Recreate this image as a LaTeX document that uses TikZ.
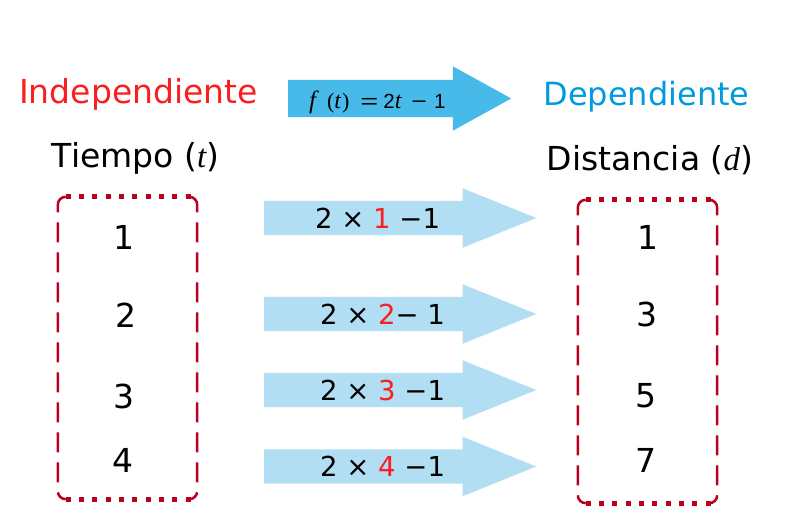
\documentclass[tikz,border=0pt]{standalone}
\usepackage{fontspec}
\setmainfont{DejaVu Sans}
\newfontfamily\timesfont{Liberation Serif}
\newfontfamily\arialfont{Liberation Sans}
\usetikzlibrary{shapes.arrows}
\definecolor{indepred}{RGB}{250, 30, 30}
\definecolor{depblue}{RGB}{0, 155, 222}
\definecolor{arrowblue}{RGB}{72, 186, 233}
\definecolor{lightarrow}{RGB}{178, 222, 243}
\definecolor{boxred}{RGB}{185, 0, 30}
\newcommand{\tvar}[1]{{\timesfont\itshape #1}}
\newcommand{\sanstxt}[1]{{\arialfont\fontsize{20.5}{24}\selectfont #1}}

\begin{document}
\begin{tikzpicture}[
    x=1pt, y=-1pt,
    % Define Styles for Consistency
    titletext/.style={
        inner sep=0pt, anchor=base, font=\fontsize{33}{40}\selectfont
    },
    numtext/.style={
        inner sep=0pt, font=\fontsize{33}{40}\selectfont
    },
    calctext/.style={
        inner sep=0pt, anchor=west, font=\fontsize{27.5}{33}\selectfont
    },
    bigarrow/.style={
        single arrow, fill=arrowblue, draw=none, inner sep=0pt,
        minimum width=0pt, text height=18.5pt, text depth=18.5pt,
        minimum height=223pt, single arrow head extend=13.5pt,
        single arrow tip angle=57.8, anchor=tail
    },
    smallarrow/.style={
        single arrow, fill=lightarrow, draw=none, inner sep=0pt,
        minimum width=0pt, text height=17pt, text depth=17pt,
        minimum height=272pt, single arrow head extend=12.5pt,
        single arrow tip angle=44, anchor=tail
    },
    valbox/.style={
        rectangle, inner sep=0pt, minimum width=139pt
    },
    dotedge/.style={
        draw=boxred, line width=5pt, dash pattern=on 5pt off 8.33pt
    },
    dashedge/.style={
        draw=boxred, line width=2.5pt, dash pattern=on 20pt off 10pt,
        rounded corners=8pt
    }
]
    \useasboundingbox (0,0) rectangle (800,530);

    % --- 1. Titles ---

    \node[titletext, text=indepred] (indep) at (138.5,103) {Independiente};
    \node[titletext, text=depblue, font=\fontsize{32}{38}\selectfont] (dep) at (646.5,105) {Dependiente};
    \node[titletext] (tiempo) at (135.5,167) {Tiempo (\tvar{t})};
    \node[titletext] (distancia) at (650,170) {Distancia (\tvar{d})};

    % --- 2. The Function Arrow ---

    \node[bigarrow] (fx) at (288,98.5) {};
    \node[inner sep=0pt, anchor=base west] (fxlabel) at (309,108) {%
        {\fontsize{25}{29}\selectfont\tvar{f}}\hspace{11pt}%
        {\fontsize{22}{26}\selectfont\timesfont(}{\fontsize{24}{28}\selectfont\tvar{t}}\hspace{1pt}{\fontsize{22}{26}\selectfont\timesfont)}\hspace{11pt}%
        \scalebox{1.5}[1]{\sanstxt{=}}\hspace{5pt}\sanstxt{2}{\fontsize{24}{28}\selectfont\tvar{t}}\hspace{10pt}%
        \scalebox{1.3}[1]{\sanstxt{−}}\hspace{7pt}\sanstxt{1}};

    % --- 3. The Value Boxes ---

    \node[valbox, minimum height=302pt] (tbox) at (127.5,348) {};
    \draw[dotedge] ([xshift=8pt]tbox.north west) -- ([xshift=-5pt]tbox.north east);
    \draw[dotedge] ([xshift=8pt]tbox.south west) -- ([xshift=-5pt]tbox.south east);
    \draw[dashedge] ([xshift=8pt]tbox.north west) -- (tbox.north west) -- (tbox.south west) -- ([xshift=8pt]tbox.south west);
    \draw[dashedge] ([xshift=-8pt]tbox.north east) -- (tbox.north east) -- (tbox.south east) -- ([xshift=-8pt]tbox.south east);

    \node[valbox, minimum height=303pt] (dbox) at (647.5,351.5) {};
    \draw[dotedge] ([xshift=8pt]dbox.north west) -- ([xshift=-5pt]dbox.north east);
    \draw[dotedge] ([xshift=8pt]dbox.south west) -- ([xshift=-5pt]dbox.south east);
    \draw[dashedge] ([xshift=8pt]dbox.north west) -- (dbox.north west) -- (dbox.south west) -- ([xshift=8pt]dbox.south west);
    \draw[dashedge] ([xshift=-8pt]dbox.north east) -- (dbox.north east) -- (dbox.south east) -- ([xshift=-8pt]dbox.south east);

    % Values of t
    \node[numtext] (t1) at (124,237) {1};
    \node[numtext] (t2) at (126,315) {2};
    \node[numtext] (t3) at (124,396) {3};
    \node[numtext] (t4) at (123,460) {4};

    % Values of d
    \node[numtext] (d1) at (648,237) {1};
    \node[numtext] (d2) at (647,314) {3};
    \node[numtext] (d3) at (646,396) {5};
    \node[numtext] (d4) at (646,460) {7};

    % --- 4. The Calculation Arrows ---

    \node[smallarrow] (a1) at (264,218) {};
    \node[calctext] (c1) at (315,218) {2 × \textcolor{indepred}{1} −1};

    \node[smallarrow] (a2) at (264,314) {};
    \node[calctext] (c2) at (320,314) {2 × \textcolor{indepred}{2}− 1};

    \node[smallarrow] (a3) at (264,390) {};
    \node[calctext] (c3) at (320,390) {2 × \textcolor{indepred}{3} −1};

    \node[smallarrow] (a4) at (264,466.5) {};
    \node[calctext] (c4) at (320,466.5) {2 × \textcolor{indepred}{4} −1};

\end{tikzpicture}
\end{document}
